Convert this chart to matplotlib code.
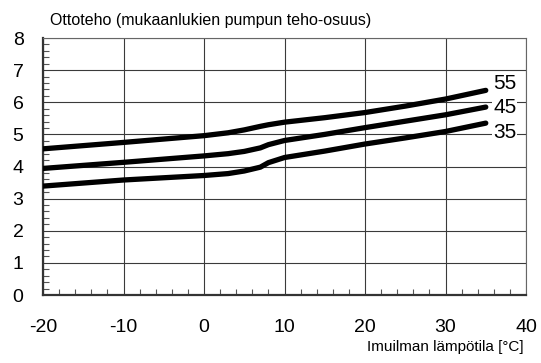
import matplotlib

matplotlib.use("Agg")
import matplotlib.pyplot as plt
from matplotlib.ticker import MultipleLocator

plt.rcParams["font.family"] = ["Liberation Sans", "DejaVu Sans"]
plt.rcParams["axes.unicode_minus"] = False

# Outdoor air temperature (°C) and input power (kW) per flow temperature curve.
temps = [-20, -10, 0, 3, 5, 7, 8, 10, 15, 20, 25, 30, 35]
power_55 = [4.55, 4.75, 4.96, 5.05, 5.14, 5.25, 5.30, 5.38, 5.52, 5.68, 5.88, 6.10, 6.37]
power_45 = [3.94, 4.13, 4.33, 4.40, 4.47, 4.58, 4.68, 4.81, 5.00, 5.21, 5.41, 5.61, 5.85]
power_35 = [3.39, 3.58, 3.72, 3.78, 3.86, 3.98, 4.12, 4.28, 4.48, 4.70, 4.89, 5.09, 5.35]

curves = [("55", power_55, 6.57), ("45", power_45, 5.85), ("35", power_35, 5.07)]

fig = plt.figure(figsize=(5.41, 3.63), dpi=100)
ax = fig.add_axes([0.0795, 0.1873, 0.8928, 0.708])

for name, vals, label_y in curves:
    ax.plot(temps, vals, color="black", lw=3.8, solid_capstyle="round",
            solid_joinstyle="round", zorder=3)
    ax.text(35.9, label_y, name, fontsize=15, va="center", ha="left",
            bbox=dict(facecolor="white", edgecolor="none", pad=0.5), zorder=4)

ax.set_xlim(-20, 40)
ax.set_ylim(0, 8)
ax.xaxis.set_major_locator(MultipleLocator(10))
ax.xaxis.set_minor_locator(MultipleLocator(2))
ax.yaxis.set_major_locator(MultipleLocator(1))
ax.yaxis.set_minor_locator(MultipleLocator(0.2))

ax.grid(True, which="major", color="#3a3a3a", lw=0.8)
ax.tick_params(which="major", length=0, labelsize=14, colors="black")
ax.tick_params(axis="x", which="major", pad=17)
ax.tick_params(axis="y", which="major", pad=14)
ax.tick_params(which="minor", direction="in", length=4.5, width=0.8,
               color="#555555")
ax.tick_params(axis="x", which="minor", top=False)
ax.tick_params(axis="y", which="minor", right=False)

for side in ("left", "bottom"):
    ax.spines[side].set_linewidth(1.6)
    ax.spines[side].set_color("#333333")
for side in ("top", "right"):
    ax.spines[side].set_linewidth(0.8)
    ax.spines[side].set_color("#666666")

fig.text(50 / 541, 1 - 20 / 363, "Ottoteho (mukaanlukien pumpun teho-osuus)",
         fontsize=11.5, ha="left", va="center")
fig.text(524 / 541, 1 - 347 / 363, "Imuilman lämpötila [°C]",
         fontsize=11, ha="right", va="center")

fig.savefig("out.png", dpi=100)
